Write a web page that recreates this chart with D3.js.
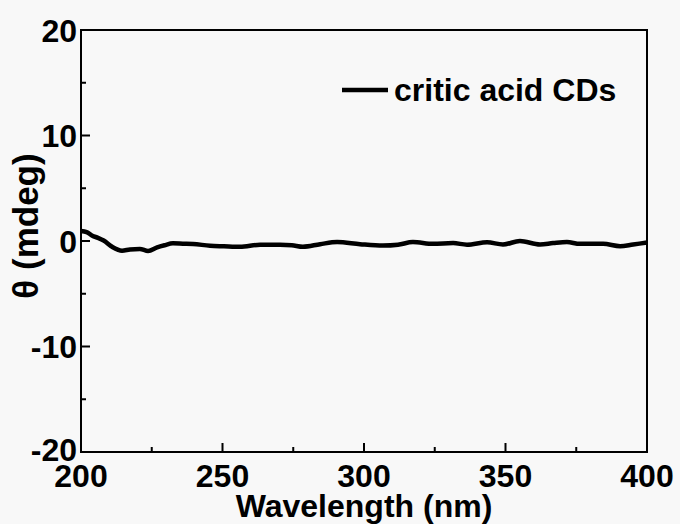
<!DOCTYPE html>
<html>
<head>
<meta charset="utf-8">
<script src="https://cdn.jsdelivr.net/npm/d3@7/dist/d3.min.js"></script>
<style>
  html, body { margin: 0; padding: 0; background: #f8f8f8; }
  svg { display: block; }
  text { font-family: "Liberation Sans", Arial, sans-serif; font-weight: bold; fill: #000; }
</style>
</head>
<body>
<svg id="chart" width="680" height="524"></svg>
<script>
// CD spectrum of citric acid carbon dots
const wavelength = [200, 202, 204, 206, 208, 211, 214.5, 217.3, 220.8, 223.7, 226.9, 229.5, 232.5,
  236, 239.6, 245.6, 250.5, 256.2, 263.3, 270.3, 274.5, 278.4, 284.5, 290.5, 298.6, 306.7, 312,
  317.3, 324.4, 331.5, 336.4, 343.5, 349.1, 355.1, 362.2, 366.8, 371.7, 376.3, 384.5, 390.5, 395.1, 400];
const theta = [0.95, 0.85, 0.5, 0.3, 0.05, -0.55, -0.92, -0.8, -0.75, -0.95, -0.6, -0.4, -0.22,
  -0.25, -0.28, -0.45, -0.5, -0.55, -0.35, -0.35, -0.4, -0.55, -0.3, -0.1, -0.3, -0.43, -0.35,
  -0.1, -0.27, -0.2, -0.35, -0.12, -0.33, 0.0, -0.33, -0.2, -0.1, -0.27, -0.27, -0.5, -0.33, -0.15];

const xTicks = [200, 250, 300, 350, 400];
const xMinorTicks = [225, 275, 325, 375];
const yTicks = [-20, -10, 0, 10, 20];
const yMinorTicks = [-15, -5, 5, 15];
const seriesName = "critic acid CDs";

const svg = d3.select("#chart");
const m = { left: 81, right: 647, top: 30, bottom: 452 };

const x = d3.scaleLinear().domain([200, 400]).range([m.left, m.right]);
const y = d3.scaleLinear().domain([-20, 20]).range([m.bottom, m.top]);

// inward ticks on the bottom and left axes
const ticks = svg.append("g").attr("stroke", "#000").attr("stroke-width", 2);
ticks.selectAll(".xmaj").data(xTicks.slice(1, -1)).join("line")
  .attr("x1", d => x(d)).attr("x2", d => x(d))
  .attr("y1", m.bottom).attr("y2", m.bottom - 9);
ticks.selectAll(".xmin").data(xMinorTicks).join("line")
  .attr("x1", d => x(d)).attr("x2", d => x(d))
  .attr("y1", m.bottom).attr("y2", m.bottom - 5);
ticks.selectAll(".ymaj").data(yTicks.slice(1, -1)).join("line")
  .attr("y1", d => y(d)).attr("y2", d => y(d))
  .attr("x1", m.left).attr("x2", m.left + 9);
ticks.selectAll(".ymin").data(yMinorTicks).join("line")
  .attr("y1", d => y(d)).attr("y2", d => y(d))
  .attr("x1", m.left).attr("x2", m.left + 5);

// frame
svg.append("rect")
  .attr("x", m.left).attr("y", m.top)
  .attr("width", m.right - m.left).attr("height", m.bottom - m.top)
  .attr("fill", "none").attr("stroke", "#000").attr("stroke-width", 2);

// tick labels
svg.append("g").selectAll("text").data(xTicks).join("text")
  .attr("x", d => x(d)).attr("y", 487)
  .attr("text-anchor", "middle").attr("font-size", 32)
  .text(d => d);
svg.append("g").selectAll("text").data(yTicks).join("text")
  .attr("x", 77).attr("y", d => y(d) + 11.5 - (d === -20 ? 3 : 0))
  .attr("text-anchor", "end").attr("font-size", 32)
  .text(d => d);

// axis titles
svg.append("text")
  .attr("x", (m.left + m.right) / 2).attr("y", 517)
  .attr("text-anchor", "middle").attr("font-size", 32)
  .text("Wavelength (nm)");
svg.append("text")
  .attr("transform", "translate(38,226) rotate(-90)")
  .attr("text-anchor", "middle").attr("font-size", 35)
  .text("θ (mdeg)");

// spectrum
const line = d3.line().x((d, i) => x(wavelength[i])).y(d => y(d)).curve(d3.curveMonotoneX);
svg.append("path")
  .datum(theta)
  .attr("d", line)
  .attr("fill", "none").attr("stroke", "#000").attr("stroke-width", 4.5)
  .attr("stroke-linejoin", "round");

// legend
const lg = svg.append("g");
lg.append("line")
  .attr("x1", 342).attr("x2", 388).attr("y1", 90).attr("y2", 90)
  .attr("stroke", "#000").attr("stroke-width", 4.5);
lg.append("text")
  .attr("x", 394).attr("y", 101).attr("font-size", 32)
  .text(seriesName);
</script>
</body>
</html>
